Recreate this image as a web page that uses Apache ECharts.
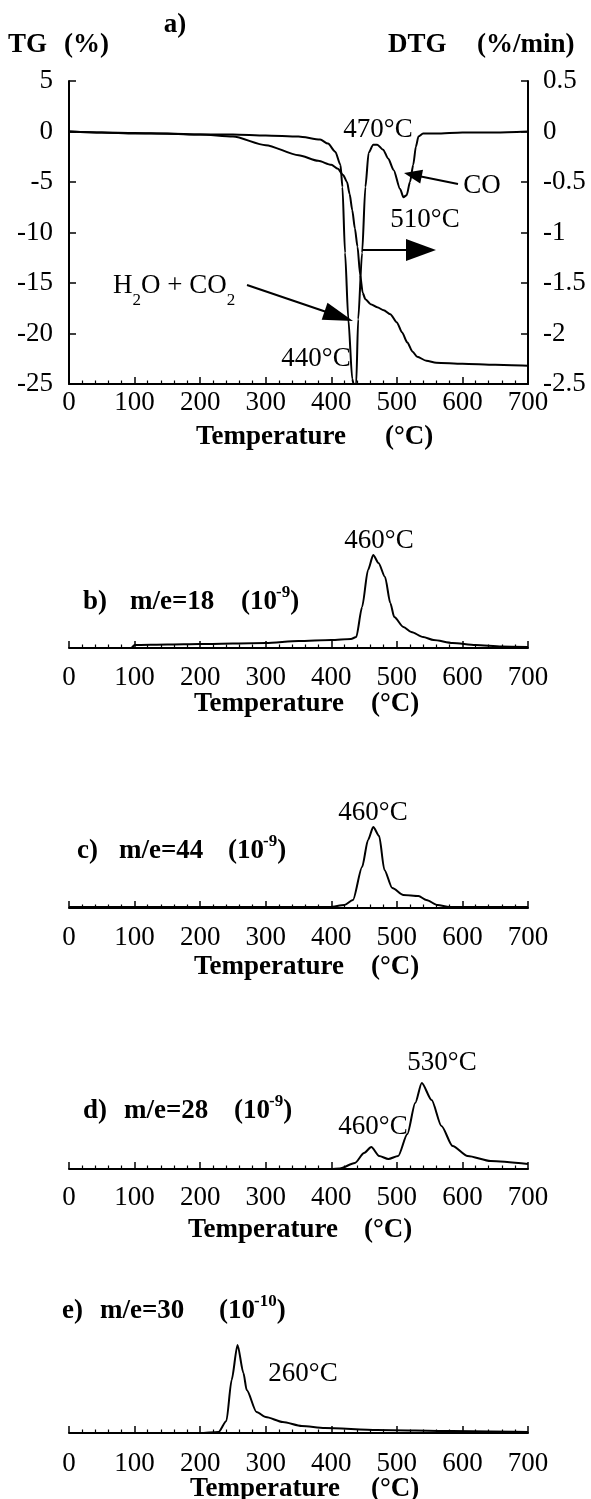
<!DOCTYPE html>
<html>
<head>
<meta charset="utf-8">
<script src="https://cdn.jsdelivr.net/npm/echarts@6/dist/echarts.min.js"></script>
<style>html,body{margin:0;padding:0;background:#fff;}#chart{width:591px;height:1499px;}</style>
</head>
<body>
<div id="chart"></div>
<script>
// ---------- data ----------
const xTicks = [0, 100, 200, 300, 400, 500, 600, 700];
const tgTicks = [5, 0, -5, -10, -15, -20, -25];
const dtgTicks = [0.5, 0, -0.5, -1, -1.5, -2, -2.5];

// a) TG (%)
const tgT = [0, 50, 100, 150, 200, 250, 300, 350, 380, 400, 410, 418, 424, 428, 432, 436, 440, 444, 448, 452, 460, 470, 480, 490, 500, 508, 516, 524, 531, 545, 560, 600, 650, 700];
const tgV = [0, -0.1, -0.15, -0.22, -0.3, -0.5, -1.35, -2.35, -2.9, -3.3, -3.7, -4.3, -5.0, -6.2, -7.8, -9.6, -11.4, -14.2, -16.0, -16.6, -17.1, -17.4, -17.7, -18.1, -18.9, -19.9, -20.9, -21.8, -22.3, -22.7, -22.9, -23.0, -23.1, -23.2];
// a) DTG (%/min)
const dtgT = [0, 50, 100, 150, 200, 250, 300, 350, 383, 395, 406, 414, 417, 421, 426, 432, 434, 438, 441, 447, 452, 457, 464, 470, 479, 487, 495, 505, 510, 515, 520, 525, 529, 533, 540, 560, 600, 650, 700];
const dtgV = [0, -0.01, -0.02, -0.02, -0.03, -0.03, -0.04, -0.05, -0.08, -0.12, -0.2, -0.33, -0.55, -1.2, -1.86, -2.45, -2.5, -2.5, -1.86, -1.2, -0.55, -0.21, -0.13, -0.13, -0.18, -0.27, -0.38, -0.57, -0.65, -0.63, -0.5, -0.33, -0.15, -0.05, -0.02, -0.02, -0.01, -0.01, 0];
// b) m/e=18 (relative intensity)
const m18T = [0, 95, 100, 150, 200, 300, 350, 400, 430, 438, 447, 456, 464, 472, 482, 490, 496, 510, 522, 540, 556, 585, 620, 660, 700];
const m18V = [0, 0, 3, 3.5, 4, 5, 7, 8, 9, 11, 41, 78, 93, 85, 71, 45, 31, 21, 16, 11, 8, 5, 3, 1.5, 1];
// c) m/e=44
const m44T = [0, 100, 200, 300, 398, 420, 433, 447, 456, 464, 473, 481, 493, 510, 533, 545, 562, 580, 600, 650, 700];
const m44V = [1, 1, 1, 1, 1, 3, 8, 41, 68, 81, 72, 38, 20, 13, 12, 8, 3, 1, 1, 1, 1];
// d) m/e=28
const m28T = [0, 100, 200, 300, 400, 413, 436, 450, 461, 473, 487, 502, 516, 528, 538, 553, 568, 585, 608, 643, 700];
const m28V = [0, 0, 0, 0, 0, 0.5, 6, 16, 22, 13, 10, 13, 35, 66, 86, 69, 43, 23, 13, 8, 5];
// e) m/e=30
const m30T = [0, 100, 200, 228, 240, 248, 257, 266, 271, 286, 300, 326, 355, 390, 470, 585, 700];
const m30V = [0, 0, 0, 1, 12, 53, 88, 60, 43, 21, 16, 11, 7, 5, 3, 2, 1];

// ---------- chart ----------
const zip = (a, b) => a.map((v, i) => [v, b[i]]);
const SERIF = 'Liberation Serif, Times New Roman, serif';
const black = '#000';
const mctx = document.createElement('canvas').getContext('2d');
function tw(s, size, bold) { mctx.font = (bold ? 'bold ' : '') + size + 'px ' + SERIF; return mctx.measureText(s).width; }

function xAxisCfg(gridIndex, margin) {
  return {
    type: 'value', gridIndex, min: xTicks[0], max: xTicks[xTicks.length - 1], interval: 100,
    axisLine: { show: true, onZero: false, lineStyle: { color: black, width: 2 } },
    axisTick: { show: true, inside: true, length: 7, lineStyle: { color: black, width: 1.5 } },
    minorTick: { show: true, splitNumber: 5, length: 3.5, lineStyle: { color: black, width: 1.2 } },
    axisLabel: { color: black, fontFamily: SERIF, fontSize: 27, margin: margin },
    splitLine: { show: false }, minorSplitLine: { show: false }
  };
}
function hiddenY(gridIndex) {
  return { type: 'value', gridIndex, min: 0, max: 100, show: false, splitLine: { show: false } };
}
function lineSeries(xi, yi, data) {
  return { type: 'line', xAxisIndex: xi, yAxisIndex: yi, data, showSymbol: false, symbol: 'none',
    smooth: 0.25, smoothMonotone: 'x', lineStyle: { color: black, width: 2 }, silent: true, animation: false };
}
function txt(x, y, s, size, bold, align) {
  return { type: 'text', x, y, silent: true, style: { text: s, fill: black,
    font: (bold ? 'bold ' : '') + size + 'px ' + SERIF,
    textAlign: align || 'center', textVerticalAlign: 'middle' } };
}
function arrow(x1, y1, x2, y2, len, half) {
  const dx = x2 - x1, dy = y2 - y1, L = Math.hypot(dx, dy), ux = dx / L, uy = dy / L;
  const bx = x2 - ux * len, by = y2 - uy * len;
  return [
    { type: 'line', silent: true, shape: { x1, y1, x2: bx + ux * 2, y2: by + uy * 2 }, style: { stroke: black, lineWidth: 2 } },
    { type: 'polygon', silent: true, shape: { points: [[x2, y2], [bx - uy * half, by + ux * half], [bx + uy * half, by - ux * half]] }, style: { fill: black } }
  ];
}
function panelLabel(y, letter, me, exp, x0, x1, x2) {
  const xs = x2 + tw('(10', 27, true) - 1;
  const xc = xs + tw(exp, 17, true);
  return [
    txt(x0, y, letter, 27, true, 'left'),
    txt(x1, y, me, 27, true, 'left'),
    txt(x2, y, '(10', 27, true, 'left'),
    txt(xs, y - 9, exp, 17, true, 'left'),
    txt(xc, y, ')', 27, true, 'left')
  ];
}
function chemLabel(x, y) {
  const xa = x + tw('H', 27, false);
  const xb = xa + tw('2', 17, false);
  const xc = xb + tw('O + CO', 27, false);
  return [txt(x, y, 'H', 27, false, 'left'), txt(xa, y + 15, '2', 17, false, 'left'),
          txt(xb, y, 'O + CO', 27, false, 'left'), txt(xc, y + 15, '2', 17, false, 'left')];
}

const yLeft = {
  type: 'value', gridIndex: 0, position: 'left', min: tgTicks[tgTicks.length - 1], max: tgTicks[0], interval: 5,
  axisLine: { show: true, onZero: false, lineStyle: { color: black, width: 2 } },
  axisTick: { show: true, inside: true, length: 7, lineStyle: { color: black, width: 1.5 } },
  axisLabel: { color: black, fontFamily: SERIF, fontSize: 27, margin: 16 },
  splitLine: { show: false }
};
const yRight = {
  type: 'value', gridIndex: 0, position: 'right', min: dtgTicks[dtgTicks.length - 1], max: dtgTicks[0], interval: 0.5,
  axisLine: { show: true, onZero: false, lineStyle: { color: black, width: 2 } },
  axisTick: { show: true, inside: true, length: 7, lineStyle: { color: black, width: 1.5 } },
  axisLabel: { color: black, fontFamily: SERIF, fontSize: 27, margin: 15 },
  splitLine: { show: false }
};

const graphics = [].concat(
  // panel a headings
  [txt(175, 25, 'a)', 27, true),
   txt(8, 45, 'TG', 27, true, 'left'), txt(64, 45, '(%)', 27, true, 'left'),
   txt(388, 45, 'DTG', 27, true, 'left'), txt(477, 45, '(%/min)', 27, true, 'left'),
   txt(378, 130, '470°C', 27, false), txt(482, 186, 'CO', 27, false),
   txt(425, 220, '510°C', 27, false), txt(316, 359, '440°C', 27, false),
   txt(196, 437, 'Temperature', 27, true, 'left'), txt(385, 437, '(°C)', 27, true, 'left')],
  chemLabel(113, 286),
  arrow(458, 184, 404, 173, 18, 7),
  arrow(362, 250, 436, 250, 30, 11),
  arrow(247, 285, 353, 321, 30, 9),
  // panel b
  [txt(379, 541, '460°C', 27, false),
   txt(194, 704, 'Temperature', 27, true, 'left'), txt(371, 704, '(°C)', 27, true, 'left')],
  panelLabel(602, 'b)', 'm/e=18', '-9', 83, 130, 241),
  // panel c
  [txt(373, 813, '460°C', 27, false),
   txt(194, 967, 'Temperature', 27, true, 'left'), txt(371, 967, '(°C)', 27, true, 'left')],
  panelLabel(851, 'c)', 'm/e=44', '-9', 77, 119, 228),
  // panel d
  [txt(442, 1063, '530°C', 27, false), txt(373, 1127, '460°C', 27, false),
   txt(188, 1230, 'Temperature', 27, true, 'left'), txt(364, 1230, '(°C)', 27, true, 'left')],
  panelLabel(1111, 'd)', 'm/e=28', '-9', 83, 124, 234),
  // panel e
  [txt(303, 1374, '260°C', 27, false),
   txt(190, 1489, 'Temperature', 27, true, 'left'), txt(371, 1489, '(°C)', 27, true, 'left')],
  panelLabel(1311, 'e)', 'm/e=30', '-10', 62, 100, 219)
);

const option = {
  backgroundColor: '#fff',
  animation: false,
  grid: [
    { left: 69, right: 63, top: 81, height: 303 },
    { left: 69, right: 63, top: 548, height: 100 },
    { left: 69, right: 63, top: 808, height: 100 },
    { left: 69, right: 63, top: 1069, height: 100 },
    { left: 69, right: 63, top: 1333, height: 100 }
  ],
  xAxis: [xAxisCfg(0, 5), xAxisCfg(1, 16), xAxisCfg(2, 16), xAxisCfg(3, 15), xAxisCfg(4, 17)],
  yAxis: [yLeft, yRight, hiddenY(1), hiddenY(2), hiddenY(3), hiddenY(4)],
  series: [
    lineSeries(0, 0, zip(tgT, tgV)),
    lineSeries(0, 1, zip(dtgT, dtgV)),
    lineSeries(1, 2, zip(m18T, m18V)),
    lineSeries(2, 3, zip(m44T, m44V)),
    lineSeries(3, 4, zip(m28T, m28V)),
    lineSeries(4, 5, zip(m30T, m30V))
  ],
  graphic: graphics
};

const chart = echarts.init(document.getElementById('chart'), null, { renderer: 'canvas' });
chart.setOption(option);
</script>
</body>
</html>
